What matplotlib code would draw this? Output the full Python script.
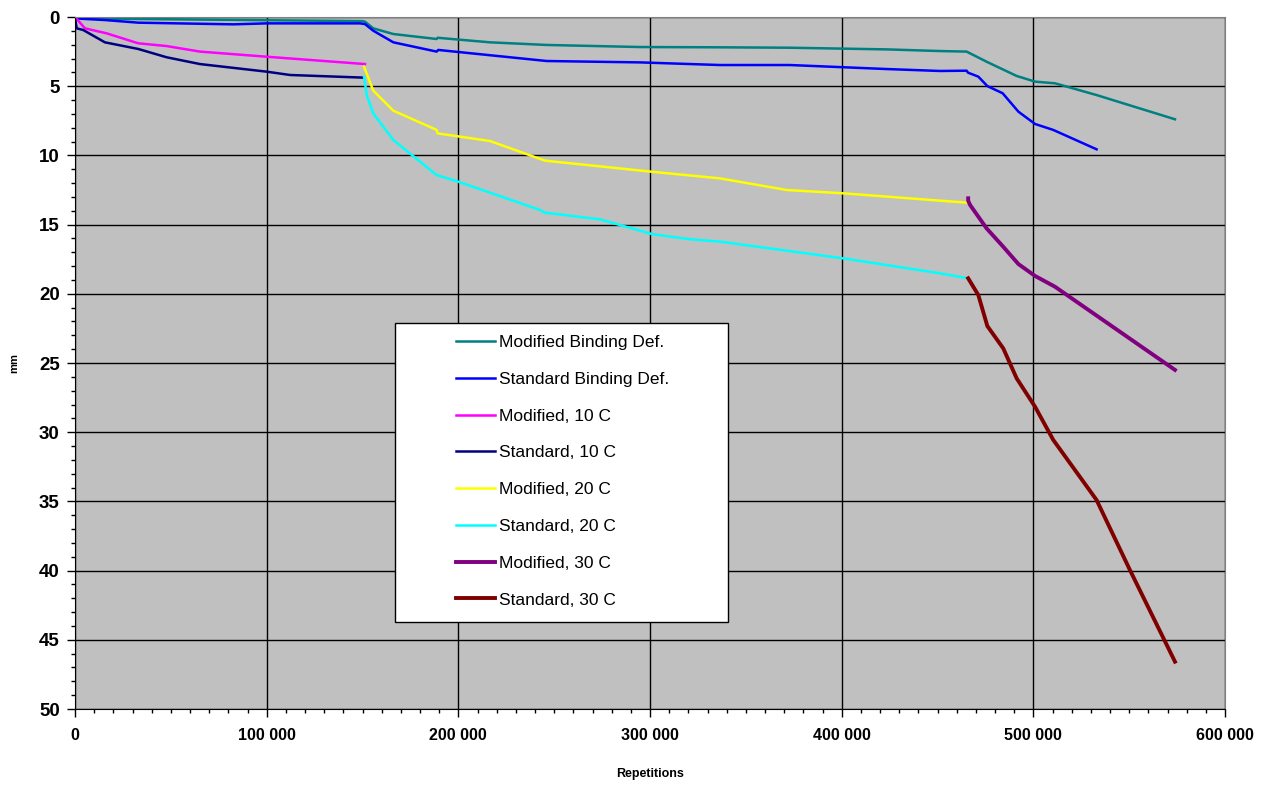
import matplotlib
matplotlib.use("Agg")
import matplotlib.pyplot as plt
from matplotlib.patches import Rectangle
from matplotlib.ticker import MultipleLocator, FuncFormatter

plt.rcParams['font.family'] = ['Liberation Sans', 'DejaVu Sans']

# deformation (mm) against load repetitions
x_mod_bind = [0, 150000, 151300, 155600, 166100, 188700, 189200, 216500, 246100,
              294800, 336500, 373000, 423500, 451300, 465200, 475600, 491300,
              500900, 511300, 533000, 573900]
y_mod_bind = [0.1, 0.3, 0.34, 0.82, 1.23, 1.59, 1.5, 1.83, 2.02,
              2.17, 2.19, 2.22, 2.34, 2.46, 2.5, 3.23, 4.26,
              4.67, 4.79, 5.64, 7.39]

x_std_bind = [0, 15600, 33000, 82600, 100000, 148700, 151300, 155600, 166100,
              188700, 189500, 246100, 294800, 336500, 373000, 423500, 451300,
              465200, 465900, 471300, 476000, 484000, 492200, 500900, 510400, 533000]
y_std_bind = [0.1, 0.22, 0.41, 0.53, 0.46, 0.46, 0.51, 0.99, 1.83,
              2.5, 2.38, 3.18, 3.28, 3.47, 3.47, 3.76, 3.9,
              3.88, 4.02, 4.31, 4.99, 5.51, 6.84, 7.73, 8.16, 9.56]

x_mod_10 = [0, 5200, 16500, 33000, 47800, 65200, 100000, 151300]
y_mod_10 = [0.0, 0.82, 1.18, 1.9, 2.1, 2.5, 2.87, 3.4]

x_std_10 = [0, 900, 4300, 15600, 33000, 47800, 65200, 100000, 112200, 150400]
y_std_10 = [0.1, 0.82, 0.94, 1.83, 2.31, 2.91, 3.4, 3.95, 4.19, 4.38]

x_mod_20 = [150800, 155600, 166100, 188700, 189200, 216500, 245200, 300900,
            336500, 371300, 400900, 451300, 466000]
y_mod_20 = [3.59, 5.32, 6.77, 8.16, 8.41, 8.96, 10.38, 11.18,
            11.66, 12.5, 12.74, 13.27, 13.42]

x_std_20 = [150800, 152200, 155600, 166100, 188700, 200000, 242600, 245200,
            273900, 300900, 320900, 336500, 400900, 451300, 466000]
y_std_20 = [4.31, 5.64, 6.96, 8.89, 11.42, 11.9, 13.94, 14.14,
            14.62, 15.68, 16.06, 16.23, 17.44, 18.52, 18.88]

x_mod_30 = [466000, 466000, 467000, 475600, 484300, 492200, 500900, 511300, 573900]
y_mod_30 = [13.1, 13.27, 13.58, 15.27, 16.6, 17.85, 18.71, 19.49, 25.5]

x_std_30 = [466000, 471300, 476000, 484300, 491300, 500900, 510400, 533000,
            550400, 573900]
y_std_30 = [18.88, 20.09, 22.33, 23.94, 26.11, 28.16, 30.56, 34.9,
            39.96, 46.58]

series = [
    ("Modified Binding Def.", x_mod_bind, y_mod_bind, "#008080", 1.8),
    ("Standard Binding Def.", x_std_bind, y_std_bind, "#0000FF", 1.8),
    ("Modified, 10 C", x_mod_10, y_mod_10, "#FF00FF", 1.8),
    ("Standard, 10 C", x_std_10, y_std_10, "#000080", 1.8),
    ("Modified, 20 C", x_mod_20, y_mod_20, "#FFFF00", 1.8),
    ("Standard, 20 C", x_std_20, y_std_20, "#00FFFF", 1.8),
    ("Modified, 30 C", x_mod_30, y_mod_30, "#800080", 2.8),
    ("Standard, 30 C", x_std_30, y_std_30, "#800000", 2.8),
]

fig = plt.figure(figsize=(12.69, 7.87), dpi=100)
ax = fig.add_axes([75 / 1269, 1 - 709 / 787, 1150 / 1269, 692 / 787])
ax.set_facecolor("#C0C0C0")

for label, xs, ys, color, lw in series:
    ax.plot(xs, ys, color=color, lw=lw, label=label, solid_joinstyle='round')

ax.set_xlim(0, 600000)
ax.set_ylim(50, 0)
ax.xaxis.set_major_locator(MultipleLocator(100000))
ax.xaxis.set_minor_locator(MultipleLocator(10000))
ax.yaxis.set_major_locator(MultipleLocator(5))
ax.yaxis.set_minor_locator(MultipleLocator(1))
ax.xaxis.set_major_formatter(FuncFormatter(lambda v, p: f"{int(v):,}".replace(",", " ")))
ax.grid(True, which='major', color='black', lw=1)
ax.set_axisbelow(True)

ax.tick_params(axis='x', which='major', length=6, width=1, labelsize=11.5, pad=8)
ax.tick_params(axis='y', which='major', length=6, width=1, labelsize=13.5, pad=5)
ax.tick_params(which='minor', length=3, width=1)
for lab in ax.get_xticklabels() + ax.get_yticklabels():
    lab.set_fontweight('bold')

for s in ['left', 'bottom']:
    ax.spines[s].set_color('black')
for s in ['top', 'right']:
    ax.spines[s].set_color('#808080')

ax.set_xlabel("Repetitions", fontsize=9, fontweight='bold', labelpad=18)
ax.set_ylabel("mm", fontsize=8, fontweight='bold', labelpad=14)

# legend sits on a white box drawn separately
box = Rectangle((0.278, 0.126), 0.29, 0.432, transform=ax.transAxes,
                facecolor='white', edgecolor='black', lw=1, zorder=5)
ax.add_patch(box)
leg = ax.legend(loc='upper left', bbox_to_anchor=(0.321, 0.558), frameon=False,
                fontsize=12.5, labelspacing=1.245, handlelength=2.25,
                handletextpad=0.23, borderpad=0.2)
leg.set_zorder(6)

fig.savefig("out.png", dpi=100)
